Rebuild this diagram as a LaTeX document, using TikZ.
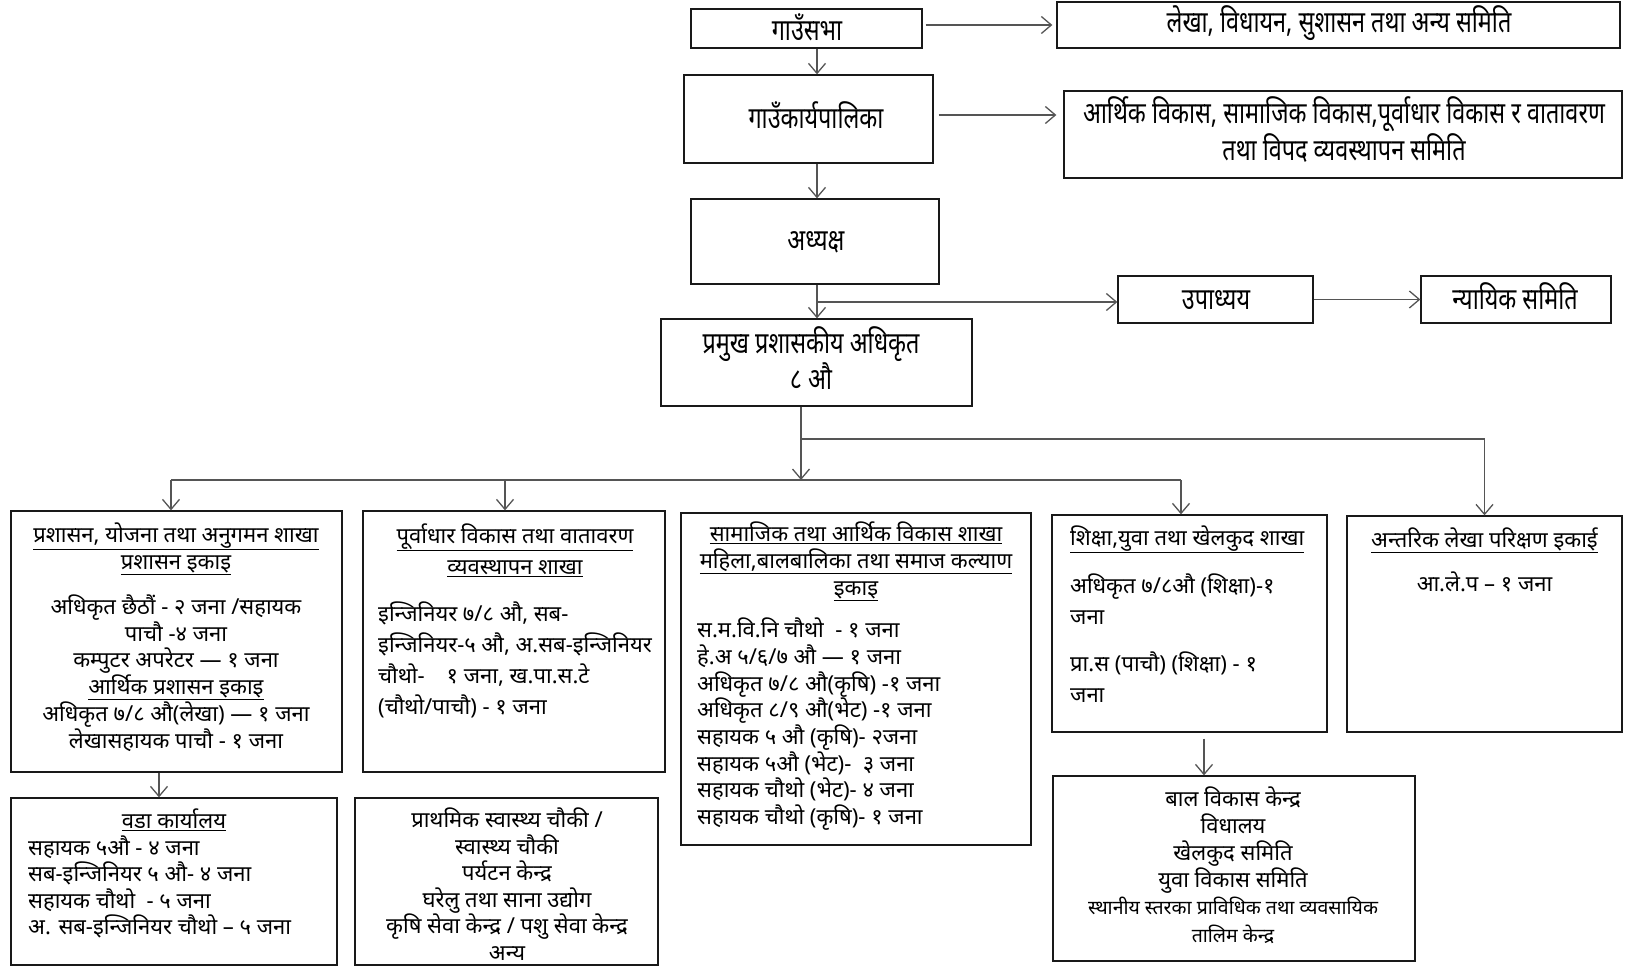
\documentclass[tikz,border=0pt]{standalone}
\usepackage{fontspec}
\usepackage{tikz}
\usetikzlibrary{arrows.meta,positioning,fit,calc}
\newfontfamily\devfont[Script=Devanagari]{Noto Sans}
\newfontfamily\devnarrow[Script=Devanagari,FakeStretch=0.78]{Noto Sans}
\definecolor{linkgray}{RGB}{85,85,85}
\definecolor{boxline}{RGB}{25,25,25}
\newcommand{\hdr}[1]{\underline{#1}}
\newcommand{\topfont}{\devnarrow\fontsize{30}{33}\selectfont}
\newcommand{\unitfont}{\devfont\fontsize{22}{26.7}\selectfont}
\newcommand{\loosefont}{\devfont\fontsize{22}{31}\selectfont}
\newcommand{\smallfont}{\devfont\fontsize{19.5}{28}\selectfont}

\begin{document}
\begin{tikzpicture}[x=1pt,y=-1pt,
  unitbox/.style={draw=boxline,line width=1.3pt,inner sep=0pt},
  toptxt/.style={font=\topfont,inner sep=0pt,align=center,anchor=base},
  ctxt/.style={font=\unitfont,inner sep=0pt,align=center,anchor=base},
  ltxt/.style={font=\unitfont,inner sep=0pt,align=left,anchor=base west},
  link/.style={draw=linkgray,line width=1.3pt},
  arr/.style={link,-{Straight Barb[length=10pt,width=17pt,line width=1.3pt]}}]
  \useasboundingbox (0,0) rectangle (1625,966);
  % council chain (text nodes sit on the baseline of their last line)
  \node[unitbox,fit={(691,9) (922,48)}] (sabha) {};
  \node[unitbox,fit={(1057,2) (1620,48)}] (lekha) {};
  \node[unitbox,fit={(684,75) (933,163)}] (karya) {};
  \node[unitbox,fit={(1064,91) (1622,178)}] (artha) {};
  \node[unitbox,fit={(691,199) (939,284)}] (adhy) {};
  \node[unitbox,fit={(1118,276) (1313,323)}] (upa) {};
  \node[unitbox,fit={(1421,276) (1611,323)}] (nyaya) {};
  \node[unitbox,fit={(661,319) (972,406)}] (pramukh) {};
  \node[toptxt] (sabhaT) at (807,41) {गाउँसभा};
  \node[toptxt] (lekhaT) at (1339,33) {लेखा, विधायन, सुशासन तथा अन्य समिति};
  \node[toptxt] (karyaT) at (816,128) {गाउँकार्यपालिका};
  \node[toptxt] (arthaT) at (1344,160)
     {आर्थिक विकास, सामाजिक विकास,पूर्वाधार विकास र वातावरण\\ तथा विपद व्यवस्थापन समिति};
  \node[toptxt] (adhyT) at (816,250) {अध्यक्ष};
  \node[toptxt] (upaT) at (1216,309) {उपाध्यय};
  \node[toptxt] (nyayaT) at (1515,309) {न्यायिक समिति};
  \node[toptxt] (pramukhT) at (811,389) {प्रमुख प्रशासकीय अधिकृत\\ ८ औ};
  % branch boxes
  \node[unitbox,fit={(11,511) (342,772)}] (b1) {};
  \node[unitbox,fit={(363,511) (665,772)}] (b2) {};
  \node[unitbox,fit={(681,513) (1031,845)}] (b3) {};
  \node[unitbox,fit={(1052,515) (1327,732)}] (b4) {};
  \node[unitbox,fit={(1347,516) (1622,732)}] (b5) {};
  \node[unitbox,fit={(11,798) (337,965)}] (wada) {};
  \node[unitbox,fit={(355,798) (658,965)}] (prath) {};
  \node[unitbox,fit={(1053,776) (1415,961)}] (bal) {};
  \node[ctxt] (b1head) at (176,569)
     {\hdr{प्रशासन, योजना तथा अनुगमन शाखा}\\ \hdr{प्रशासन इकाइ}};
  \node[ctxt] (b1body) at (176,748)
     {अधिकृत छैठौं - २ जना /सहायक\\ पाचौ -४ जना\\ कम्पुटर अपरेटर — १ जना\\
      \hdr{आर्थिक प्रशासन इकाइ}\\ अधिकृत ७/८ औ(लेखा) — १ जना\\ लेखासहायक पाचौ - १ जना};
  \node[ctxt,font=\loosefont] (b2head) at (515,574)
     {\hdr{पूर्वाधार विकास तथा वातावरण}\\ \hdr{व्यवस्थापन शाखा}};
  \node[ltxt,font=\loosefont] (b2body) at (378,714.5)
     {इन्जिनियर ७/८ औ, सब-\\ इन्जिनियर-५ औ, अ.सब-इन्जिनियर\\
      चौथो-\quad १ जना, ख.पा.स.टे\\ (चौथो/पाचौ) - १ जना};
  \node[ctxt] (b3head) at (856,595)
     {\hdr{सामाजिक तथा आर्थिक विकास शाखा}\\ \hdr{महिला,बालबालिका तथा समाज कल्याण}\\ \hdr{इकाइ}};
  \node[ltxt] (b3body) at (697,824.5)
     {स.म.वि.नि चौथो\ \ - १ जना\\ हे.अ ५/६/७ औ — १ जना\\ अधिकृत ७/८ औ(कृषि) -१ जना\\
      अधिकृत ८/९ औ(भेट) -१ जना\\ सहायक ५ औ (कृषि)- २जना\\ सहायक ५औ (भेट)-\ \ ३ जना\\
      सहायक चौथो (भेट)- ४ जना\\ सहायक चौथो (कृषि)- १ जना};
  \node[ltxt] (b4head) at (1070,545) {\hdr{शिक्षा,युवा तथा खेलकुद शाखा}};
  \node[ltxt,font=\loosefont] (b4body) at (1070,702)
     {अधिकृत ७/८औ (शिक्षा)-१\\ जना\\[16pt] प्रा.स (पाचौ) (शिक्षा) - १\\ जना};
  \node[ctxt] (b5head) at (1484.5,547) {\hdr{अन्तरिक लेखा परिक्षण इकाई}};
  \node[ctxt] (b5body) at (1484.5,591.5) {आ.ले.प – १ जना};
  \node[ctxt] (wadahead) at (174,828) {\hdr{वडा कार्यालय}};
  \node[ltxt,font=\devfont\fontsize{22}{26.5}\selectfont] (wadabody) at (28,934.5)
     {सहायक ५औ - ४ जना\\ सब-इन्जिनियर ५ औ- ४ जना\\ सहायक चौथो\ \ - ५ जना\\
      अ. सब-इन्जिनियर चौथो – ५ जना};
  \node[ctxt,font=\devfont\fontsize{22}{26.5}\selectfont] (prathbody) at (507,960)
     {प्राथमिक स्वास्थ्य चौकी /\\ स्वास्थ्य चौकी\\ पर्यटन केन्द्र\\ घरेलु तथा साना उद्योग\\
      कृषि सेवा केन्द्र / पशु सेवा केन्द्र\\ अन्य};
  \node[ctxt] (balbody) at (1233,887)
     {बाल विकास केन्द्र\\ विधालय\\ खेलकुद समिति\\ युवा विकास समिति};
  \node[ctxt,font=\smallfont] (balsmall) at (1233,942)
     {स्थानीय स्तरका प्राविधिक तथा व्यवसायिक\\ तालिम केन्द्र};
  % connectors
  \coordinate (trunk) at (817,0);
  \coordinate (vsplit) at (817,302);
  \draw[arr] (sabha.south -| trunk) -- (karya.north -| trunk);
  \draw[arr] (karya.south -| trunk) -- (adhy.north -| trunk);
  \draw[arr] (adhy.south -| trunk) -- (pramukh.north -| trunk);
  \draw[arr] (vsplit) -- (vsplit -| upa.west);
  \draw[arr] (upa.east) -- (nyaya.west);
  \draw[arr,shorten <=3pt,shorten >=4pt] (sabha.east |- lekha.west) -- (lekha.west);
  \draw[arr,shorten <=5pt,shorten >=7pt] ([yshift=4pt]karya.east) -- ([yshift=4pt]karya.east -| artha.west);
  \coordinate (drop) at (801,0);
  \coordinate (highbar) at (801,439);
  \coordinate (lowbar) at (801,480);
  \coordinate (j1) at (171,480);
  \coordinate (j2) at (505,480);
  \coordinate (j4) at (1181,480);
  \draw[arr] (pramukh.south -| drop) -- (lowbar);
  \draw[arr] (highbar) -| (b5.north);
  \draw[link] (j1) -- (j4);
  \draw[arr] (j1) -- (j1 |- b1.north);
  \draw[arr] (j2) -- (j2 |- b2.north);
  \draw[arr] (j4) -- (j4 |- b4.north);
  \coordinate (wdrop) at (159,0);
  \coordinate (bdrop) at (1204,0);
  \draw[arr] (b1.south -| wdrop) -- (wada.north -| wdrop);
  \draw[arr,shorten <=6pt] (b4.south -| bdrop) -- (bal.north -| bdrop);
\end{tikzpicture}
\end{document}
